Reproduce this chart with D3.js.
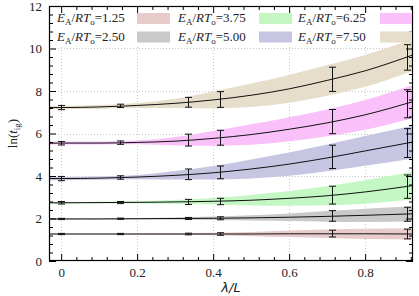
<!DOCTYPE html>
<html>
<head>
<meta charset="utf-8">
<script src="https://cdn.jsdelivr.net/npm/d3@7"></script>
<style>
  body { margin: 0; background: #fff; }
  text { font-family: "Liberation Serif", "Times New Roman", serif; }
</style>
</head>
<body>
<div class="container"></div>
<script>
// x positions of the simulated points (lambda / L)
const pointX = [0, 0.154, 0.333, 0.417, 0.714, 0.909];
// x positions where the fitted curve / band was read
const fitX = [-0.032, 0, 0.1, 0.2, 0.3, 0.4, 0.5, 0.6, 0.7, 0.8, 0.926];

const legendLabels = ['1.25', '2.50', '3.75', '5.00', '6.25', '7.50'];

// fitted curve, band half width, point means, error half width
const fit125 = [1.27, 1.27, 1.27, 1.27, 1.27, 1.27, 1.27, 1.28, 1.28, 1.28, 1.27];
const band125 = [0.02, 0.02, 0.02, 0.03, 0.04, 0.06, 0.1, 0.15, 0.2, 0.24, 0.26];
const pts125 = [1.27, 1.27, 1.27, 1.27, 1.29, 1.27];
const err125 = [0.03, 0.03, 0.04, 0.06, 0.16, 0.23];

const fit250 = [1.98, 1.98, 1.98, 1.99, 2.0, 2.01, 2.03, 2.06, 2.1, 2.15, 2.22];
const band250 = [0.02, 0.02, 0.02, 0.03, 0.05, 0.08, 0.12, 0.18, 0.25, 0.31, 0.36];
const pts250 = [1.98, 1.99, 2.0, 2.01, 2.12, 2.2];
const err250 = [0.03, 0.03, 0.05, 0.07, 0.25, 0.33];

const fit375 = [2.74, 2.74, 2.75, 2.76, 2.78, 2.81, 2.86, 2.95, 3.07, 3.25, 3.55];
const band375 = [0.04, 0.04, 0.04, 0.05, 0.09, 0.15, 0.25, 0.35, 0.45, 0.55, 0.65];
const pts375 = [2.74, 2.75, 2.78, 2.8, 3.1, 3.5];
const err375 = [0.06, 0.05, 0.12, 0.15, 0.42, 0.55];

const fit500 = [3.88, 3.88, 3.9, 3.95, 4.03, 4.15, 4.33, 4.56, 4.85, 5.18, 5.6];
const band500 = [0.08, 0.08, 0.08, 0.1, 0.2, 0.32, 0.45, 0.55, 0.63, 0.7, 0.78];
const pts500 = [3.88, 3.93, 4.08, 4.17, 4.9, 5.55];
const err500 = [0.1, 0.08, 0.25, 0.3, 0.55, 0.68];

const fit625 = [5.54, 5.55, 5.55, 5.58, 5.64, 5.77, 5.95, 6.2, 6.5, 6.88, 7.5];
const band625 = [0.07, 0.07, 0.07, 0.09, 0.2, 0.35, 0.48, 0.57, 0.63, 0.7, 0.78];
const pts625 = [5.54, 5.57, 5.69, 5.8, 6.56, 7.4];
const err625 = [0.08, 0.08, 0.28, 0.35, 0.57, 0.66];

const fit750 = [7.22, 7.22, 7.25, 7.32, 7.42, 7.58, 7.8, 8.1, 8.5, 8.95, 9.7];
const band750 = [0.08, 0.08, 0.09, 0.12, 0.22, 0.4, 0.55, 0.65, 0.72, 0.75, 0.75];
const pts750 = [7.22, 7.3, 7.47, 7.6, 8.55, 9.58];
const err750 = [0.1, 0.08, 0.23, 0.37, 0.57, 0.6];

const xTicks = [0, 0.2, 0.4, 0.6, 0.8];
const yTicks = [0, 2, 4, 6, 8, 10, 12];

const colors = ['#e8cccc', '#c9c9c9', '#c4f7c4', '#c6c6e2', '#f9c0f9', '#e6ddca'];

const series = [
  { fit: fit125, band: band125, pts: pts125, err: err125 },
  { fit: fit250, band: band250, pts: pts250, err: err250 },
  { fit: fit375, band: band375, pts: pts375, err: err375 },
  { fit: fit500, band: band500, pts: pts500, err: err500 },
  { fit: fit625, band: band625, pts: pts625, err: err625 },
  { fit: fit750, band: band750, pts: pts750, err: err750 },
];

const w = 419;
const h = 296;
const margin = { top: 6, right: 6, bottom: 35, left: 49 };

const svg = d3.select('.container')
  .append('svg')
  .attr('width', w)
  .attr('height', h);

const x = d3.scaleLinear().domain([-0.032, 0.926]).range([margin.left, w - margin.right]);
const y = d3.scaleLinear().domain([0, 12]).range([h - margin.bottom, margin.top]);

svg.append('defs').append('clipPath').attr('id', 'plot')
  .append('rect')
  .attr('x', margin.left).attr('y', margin.top)
  .attr('width', w - margin.left - margin.right)
  .attr('height', h - margin.top - margin.bottom);

// dotted grid
const grid = svg.append('g').attr('stroke', '#c8c8c8').attr('stroke-dasharray', '1,2').attr('stroke-width', 1);
xTicks.forEach(t => {
  grid.append('line')
    .attr('x1', Math.round(x(t)) + 0.5).attr('x2', Math.round(x(t)) + 0.5)
    .attr('y1', y(0)).attr('y2', y(12));
});
yTicks.slice(1, -1).forEach(t => {
  grid.append('line')
    .attr('x1', x.range()[0]).attr('x2', x.range()[1])
    .attr('y1', Math.round(y(t)) + 0.5).attr('y2', Math.round(y(t)) + 0.5);
});

// opaque key background
svg.append('rect')
  .attr('x', margin.left + 1).attr('y', margin.top + 1)
  .attr('width', w - margin.left - margin.right - 2).attr('height', 38)
  .attr('fill', '#fff');

const plot = svg.append('g').attr('clip-path', 'url(#plot)');

const area = d3.area()
  .x((d, i) => x(fitX[i]))
  .y0(d => y(d[0] - d[1]))
  .y1(d => y(d[0] + d[1]))
  .curve(d3.curveMonotoneX);

const line = d3.line()
  .x((d, i) => x(fitX[i]))
  .y(d => y(d))
  .curve(d3.curveMonotoneX);

series.forEach((s, k) => {
  plot.append('path')
    .datum(s.fit.map((v, i) => [v, s.band[i]]))
    .attr('d', area)
    .attr('fill', colors[k]);
});

series.forEach(s => {
  plot.append('path')
    .datum(s.fit)
    .attr('d', line)
    .attr('fill', 'none')
    .attr('stroke', '#111')
    .attr('stroke-width', 1);

  const bars = plot.append('g').attr('stroke', '#111').attr('stroke-width', 1);
  s.pts.forEach((v, i) => {
    const cx = Math.round(x(pointX[i])) + 0.5;
    const top = y(v + s.err[i]);
    const bot = y(v - s.err[i]);
    bars.append('line').attr('x1', cx).attr('x2', cx).attr('y1', top).attr('y2', bot);
    bars.append('line').attr('x1', cx - 3.5).attr('x2', cx + 3.5).attr('y1', top).attr('y2', top);
    bars.append('line').attr('x1', cx - 3.5).attr('x2', cx + 3.5).attr('y1', bot).attr('y2', bot);
  });
});

// axes: major + minor ticks on all four sides, pointing inward
const xMinor = d3.range(0, 24).filter(i => i % 5 !== 0).map(i => i * 0.04);
const yMinor = d3.range(0, 31).filter(i => i % 5 !== 0).map(i => i * 0.4);

const styleAxis = g => {
  g.select('.domain').remove();
  g.selectAll('line').attr('stroke', '#000');
  g.selectAll('text')
    .attr('font-family', '"Liberation Serif", serif')
    .attr('font-size', 13)
    .attr('fill', '#222');
};

svg.append('g').attr('transform', `translate(0,${y(0)})`)
  .call(d3.axisBottom(x).tickValues(xTicks).tickSize(-7).tickPadding(7)
    .tickFormat(d => d === 0 ? '0' : d3.format('.1f')(d)))
  .call(styleAxis);
svg.append('g').attr('transform', `translate(0,${y(0)})`)
  .call(d3.axisBottom(x).tickValues(xMinor).tickSize(-4).tickFormat(''))
  .call(styleAxis);
svg.append('g').attr('transform', `translate(0,${y(12)})`)
  .call(d3.axisTop(x).tickValues(xTicks).tickSize(-7).tickFormat(''))
  .call(styleAxis);
svg.append('g').attr('transform', `translate(0,${y(12)})`)
  .call(d3.axisTop(x).tickValues(xMinor).tickSize(-4).tickFormat(''))
  .call(styleAxis);

svg.append('g').attr('transform', `translate(${x.range()[0]},0)`)
  .call(d3.axisLeft(y).tickValues(yTicks).tickSize(-7).tickPadding(7))
  .call(styleAxis);
svg.append('g').attr('transform', `translate(${x.range()[0]},0)`)
  .call(d3.axisLeft(y).tickValues(yMinor).tickSize(-4).tickFormat(''))
  .call(styleAxis);
svg.append('g').attr('transform', `translate(${x.range()[1]},0)`)
  .call(d3.axisRight(y).tickValues(yTicks).tickSize(-7).tickFormat(''))
  .call(styleAxis);
svg.append('g').attr('transform', `translate(${x.range()[1]},0)`)
  .call(d3.axisRight(y).tickValues(yMinor).tickSize(-4).tickFormat(''))
  .call(styleAxis);

// frame
svg.append('rect')
  .attr('x', x.range()[0] + 0.5).attr('y', y(12) + 0.5)
  .attr('width', x.range()[1] - x.range()[0] - 1)
  .attr('height', y(0) - y(12) - 1)
  .attr('fill', 'none')
  .attr('stroke', '#000')
  .attr('stroke-width', 1.2);

// key
const textX = [57, 178, 298];
const swatchX = [137, 259, 380];
legendLabels.forEach((lab, k) => {
  const col = Math.floor(k / 2);
  const row = k % 2;
  const base = 22 + row * 18.5;
  const t = svg.append('text')
    .attr('x', textX[col]).attr('y', base)
    .attr('font-size', 13).attr('fill', '#222');
  t.append('tspan').attr('font-style', 'italic').text('E');
  t.append('tspan').attr('font-size', 9).attr('dy', 3).text('A');
  t.append('tspan').attr('dy', -3).text('/');
  t.append('tspan').attr('font-style', 'italic').text('RT');
  t.append('tspan').attr('font-size', 9).attr('dy', 3).text('o');
  t.append('tspan').attr('dy', -3).text('=' + lab);
  svg.append('rect')
    .attr('x', swatchX[col]).attr('y', base - 9)
    .attr('width', Math.min(33, x.range()[1] - 1 - swatchX[col])).attr('height', 11)
    .attr('fill', colors[k]);
});

// axis titles
const yl = svg.append('text')
  .attr('transform', `translate(17,${(y(0) + y(12)) / 2}) rotate(-90)`)
  .attr('text-anchor', 'middle')
  .attr('font-size', 13).attr('fill', '#222');
yl.append('tspan').text('ln(');
yl.append('tspan').attr('font-style', 'italic').text('t');
yl.append('tspan').attr('font-size', 9).attr('dy', 3).text('ig');
yl.append('tspan').attr('dy', -3).text(')');

svg.append('text')
  .attr('x', (x.range()[0] + x.range()[1]) / 2)
  .attr('y', 292)
  .attr('text-anchor', 'middle')
  .attr('font-size', 13)
  .attr('font-style', 'italic')
  .attr('fill', '#222')
  .style('font-family', '"DejaVu Sans", sans-serif')
  .text('λ/L');
</script>
</body>
</html>
